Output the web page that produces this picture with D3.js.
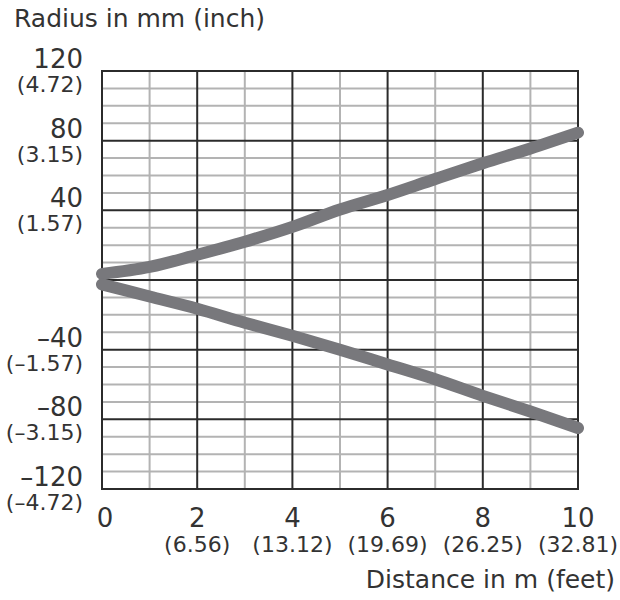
<!DOCTYPE html>
<html>
<head>
<meta charset="utf-8">
<script src="https://cdn.jsdelivr.net/npm/d3@7"></script>
<style>
  html, body { margin: 0; padding: 0; background: #fff; }
  svg { display: block; }
  text { font-family: "DejaVu Sans", "Liberation Sans", Arial, sans-serif; fill: #333; }
</style>
</head>
<body>
<svg id="chart" width="620" height="600"></svg>
<script>
// ---- data ----
const distances = [0, 1, 2, 3, 4, 5, 6, 7, 8, 9, 10];            // m
const upperRadius = [3.5, 7.5, 14.5, 22, 30.5, 40.5, 48.8, 58, 67, 75.5, 84.6];   // mm
const lowerRadius = [-2.5, -9.5, -16.5, -24.5, -32, -40, -48.5, -57, -66.5, -75.5, -85]; // mm

const xMajorTicks = [0, 2, 4, 6, 8, 10];
const xFeetLabels = ["", "(6.56)", "(13.12)", "(19.69)", "(26.25)", "(32.81)"];
const yMajorTicks = [120, 80, 40, -40, -80, -120];
const yMmLabels = ["120", "80", "40", "\u201340", "\u201380", "\u2013120"];
const yInchLabels = ["(4.72)", "(3.15)", "(1.57)", "(\u20131.57)", "(\u20133.15)", "(\u20134.72)"];
const xMinorTicks = [1, 3, 5, 7, 9];
const yMinorTicks = d3.range(-120, 121, 10).filter(v => v % 40 !== 0);
const yMajorLines = [-120, -80, -40, 0, 40, 80, 120];

// ---- layout ----
const svg = d3.select("#chart");
const pLeft = 102, pRight = 578, pTop = 71, pBottom = 489;
const x = d3.scaleLinear().domain([0, 10]).range([pLeft, pRight]);
const y = d3.scaleLinear().domain([-120, 120]).range([pBottom, pTop]);

const minorColor = "#b3b3b3", majorColor = "#2b2b2b";

// minor grid
const g = svg.append("g");
g.selectAll("line.hmin").data(yMinorTicks).join("line").attr("class", "hmin")
  .attr("x1", pLeft).attr("x2", pRight)
  .attr("y1", d => y(d)).attr("y2", d => y(d))
  .attr("stroke", minorColor).attr("stroke-width", 2);
g.selectAll("line.vmin").data(xMinorTicks).join("line").attr("class", "vmin")
  .attr("y1", pTop).attr("y2", pBottom)
  .attr("x1", d => x(d)).attr("x2", d => x(d))
  .attr("stroke", minorColor).attr("stroke-width", 2);

// major grid
g.selectAll("line.hmaj").data(yMajorLines).join("line").attr("class", "hmaj")
  .attr("x1", pLeft - 1).attr("x2", pRight + 1)
  .attr("y1", d => y(d)).attr("y2", d => y(d))
  .attr("stroke", majorColor).attr("stroke-width", 2);
g.selectAll("line.vmaj").data(xMajorTicks).join("line").attr("class", "vmaj")
  .attr("y1", pTop - 1).attr("y2", pBottom + 1)
  .attr("x1", d => x(d)).attr("x2", d => x(d))
  .attr("stroke", majorColor).attr("stroke-width", 2);

// curves
const line = d3.line().x((d, i) => x(distances[i])).y(d => y(d)).curve(d3.curveMonotoneX);
[upperRadius, lowerRadius].forEach(series => {
  svg.append("path")
    .attr("d", line(series))
    .attr("fill", "none")
    .attr("stroke", "#78787c")
    .attr("stroke-width", 12)
    .attr("stroke-linecap", "round")
    .attr("stroke-linejoin", "round");
});

// y labels
const yl = svg.append("g");
yMajorTicks.forEach((v, i) => {
  yl.append("text").attr("x", 83).attr("y", y(v) - 3)
    .attr("text-anchor", "end").attr("font-size", 26)
    .text(yMmLabels[i]);
  yl.append("text").attr("x", 83).attr("y", y(v) + 21)
    .attr("text-anchor", "end").attr("font-size", 22)
    .text(yInchLabels[i]);
});

// x labels
const xl = svg.append("g");
xMajorTicks.forEach((v, i) => {
  xl.append("text").attr("x", x(v) + (v === 0 ? 3 : 0)).attr("y", 527)
    .attr("text-anchor", "middle").attr("font-size", 26)
    .text(String(v));
  if (xFeetLabels[i]) {
    xl.append("text").attr("x", x(v)).attr("y", 552)
      .attr("text-anchor", "middle").attr("font-size", 22)
      .text(xFeetLabels[i]);
  }
});

// axis titles
svg.append("text").attr("x", 14).attr("y", 27).attr("font-size", 25)
  .text("Radius in mm (inch)");
svg.append("text").attr("x", 615).attr("y", 588).attr("text-anchor", "end")
  .attr("font-size", 25).text("Distance in m (feet)");
</script>
</body>
</html>
